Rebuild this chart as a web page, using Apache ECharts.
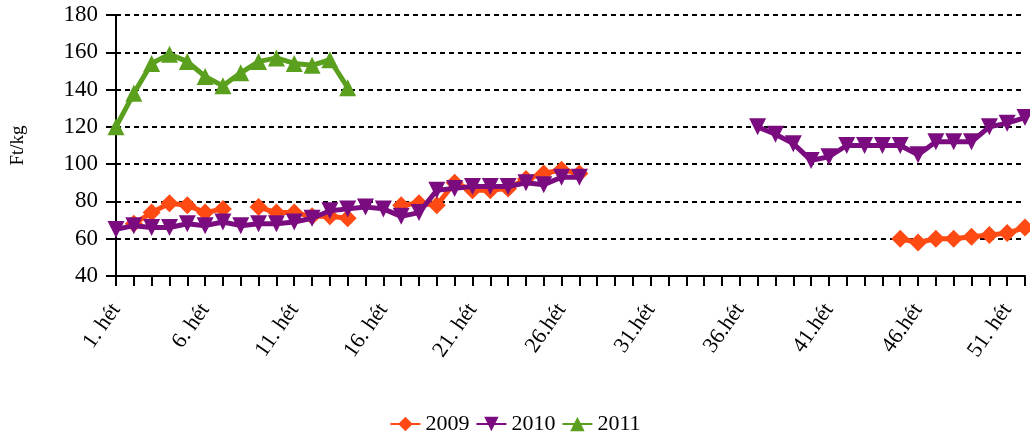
<!DOCTYPE html>
<html>
<head>
<meta charset="utf-8">
<script src="https://cdn.jsdelivr.net/npm/echarts@6/dist/echarts.min.js"></script>
<style>
  html, body { margin: 0; padding: 0; background: #fff; }
  #main { width: 1030px; height: 440px; }
</style>
</head>
<body>
<div id="main"></div>
<script>
// heti árak, Ft/kg
const weeks = [];
for (let i = 1; i <= 52; i++) weeks.push(i + '. hét');
// a képen néhány felirat pont nélkül van
weeks[25] = '26.hét';
weeks[30] = '31.hét';
weeks[35] = '36.hét';
weeks[40] = '41.hét';
weeks[45] = '46.hét';

const legendNames = ['2009', '2010', '2011'];

const y2009 = [null, 68, 74, 79, 78, 74, 76, null, 77, 74,
  74, 72, 72, 71, null, null, 78, 79, 78, 90,
  86, 86, 87, 92, 95, 97, 95, null, null, null,
  null, null, null, null, null, null, null, null, null, null,
  null, null, null, null, 60, 58, 60, 60, 61, 62,
  63, 66];

const y2010 = [65, 67, 66, 66, 68, 67, 69, 67, 68, 68,
  69, 71, 75, 76, 77, 76, 72, 74, 86, 87,
  88, 88, 88, 90, 89, 93, 93, null, null, null,
  null, null, null, null, null, null, 120, 116, 111, 102,
  104, 110, 110, 110, 110, 105, 112, 112, 112, 120,
  122, 125];

const y2011 = [120, 138, 154, 159, 155, 147, 142, 149, 155, 157,
  154, 153, 156, 141];

const colors = ['#FF4A14', '#7B0C80', '#5AA01E'];
const font = 'Liberation Serif';

const chart = echarts.init(document.getElementById('main'));
chart.setOption({
  animation: false,
  backgroundColor: '#fff',
  textStyle: { fontFamily: font, color: '#000' },
  grid: { left: 116, right: 5, top: 15, bottom: 164 },
  legend: {
    bottom: 0,
    left: 'center',
    itemWidth: 30,
    itemHeight: 18,
    itemGap: 6,
    textStyle: { fontFamily: font, fontSize: 22, color: '#000' },
    data: legendNames
  },
  xAxis: {
    type: 'category',
    boundaryGap: false,
    data: weeks,
    axisLine: { lineStyle: { color: '#000', width: 2 } },
    axisTick: { show: true, interval: 0, length: 10, lineStyle: { color: '#000', width: 2 } },
    axisLabel: {
      interval: 4,
      rotate: 55,
      margin: 30,
      fontFamily: font,
      fontSize: 22,
      color: '#000'
    },
    splitLine: { show: false }
  },
  yAxis: {
    type: 'value',
    min: 40,
    max: 180,
    interval: 20,
    name: 'Ft/kg',
    nameLocation: 'middle',
    nameGap: 88,
    nameTextStyle: { fontFamily: font, fontSize: 19, color: '#000' },
    axisLine: { show: true, lineStyle: { color: '#000', width: 2 } },
    axisTick: { show: true, length: 10, lineStyle: { color: '#000', width: 2 } },
    axisLabel: { margin: 18, fontFamily: font, fontSize: 23, color: '#000' },
    splitLine: { lineStyle: { color: '#000', width: 2, type: [5, 4] } }
  },
  series: [
    {
      name: legendNames[0],
      type: 'line',
      data: y2009,
      symbol: 'diamond',
      symbolSize: 18,
      showAllSymbol: true,
      color: colors[0],
      lineStyle: { width: 5 },
      connectNulls: false,
      z: 2
    },
    {
      name: legendNames[1],
      type: 'line',
      data: y2010,
      symbol: 'triangle',
      symbolRotate: 180,
      symbolSize: 17,
      showAllSymbol: true,
      color: colors[1],
      lineStyle: { width: 5 },
      connectNulls: false,
      z: 3
    },
    {
      name: legendNames[2],
      type: 'line',
      data: y2011,
      symbol: 'triangle',
      symbolSize: 17,
      showAllSymbol: true,
      color: colors[2],
      lineStyle: { width: 5 },
      z: 4
    }
  ]
});
</script>
</body>
</html>
